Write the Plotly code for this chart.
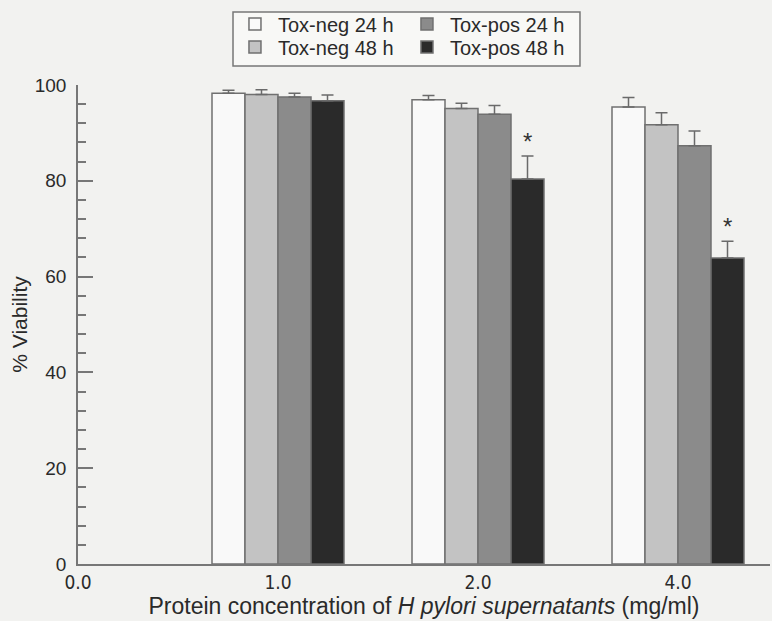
import plotly.graph_objects as go

# ---- data ----
tick_labels = ["0.0", "1.0", "2.0", "4.0"]
tick_positions = [0, 1, 2, 3]
group_positions = [1, 2, 3]  # 1.0, 2.0, 4.0 mg/ml

series_names = ["Tox-neg 24 h", "Tox-neg 48 h", "Tox-pos 24 h", "Tox-pos 48 h"]
neg24 = [98.3, 96.9, 95.4]
neg48 = [98.0, 95.1, 91.7]
pos24 = [97.5, 93.9, 87.3]
pos48 = [96.7, 80.4, 63.9]
neg24_err = [0.6, 0.9, 2.0]
neg48_err = [1.0, 1.1, 2.5]
pos24_err = [0.8, 1.8, 3.1]
pos48_err = [1.2, 4.8, 3.5]
significant = [False, True, True]  # asterisk on Tox-pos 48 h

values = [neg24, neg48, pos24, pos48]
errors = [neg24_err, neg48_err, pos24_err, pos48_err]
colors = ["#f9f9f9", "#c3c3c3", "#8b8b8b", "#2a2a2a"]
legend_rows = ["legend", "legend2", "legend", "legend2"]  # 24 h on row 1, 48 h on row 2

BG = "#f2f2f0"

fig = go.Figure()
for name, vals, errs, col, lg in zip(series_names, values, errors, colors, legend_rows):
    fig.add_trace(go.Bar(
        x=group_positions, y=vals, name=name, legend=lg,
        marker=dict(color=col, line=dict(color="#707070", width=1.5)),
        error_y=dict(type="data", array=errs, arrayminus=[0] * len(errs), symmetric=False,
                     color="#6a6a6a", thickness=1.5, width=6),
    ))

bargap = 0.34
bar_w = (1 - bargap) / 4
offset = 1.5 * bar_w
for xp, v, e, sig in zip(group_positions, pos48, pos48_err, significant):
    if sig:
        fig.add_annotation(x=xp + offset, y=v + e + 3, text="*", showarrow=False,
                           font=dict(size=24, color="#333333", family="Liberation Sans, Arial"),
                           yanchor="middle")

# legend frame (paper coords; plot area = 692 x 479 px)
fig.add_shape(type="rect", xref="paper", yref="paper",
              x0=0.224, x1=0.7254, y0=1.0397, y1=1.1524,
              line=dict(color="#777777", width=1.5), fillcolor="#f8f8f6", layer="above")

legend_common = dict(
    orientation="h", xanchor="left", yanchor="middle", x=0.2225,
    bgcolor="rgba(0,0,0,0)", borderwidth=0,
    font=dict(size=20, family="Liberation Sans, Arial", color="#2a2a2a"),
    itemwidth=36, entrywidth=121,
)

fig.update_layout(
    width=772, height=621,
    margin=dict(l=78, r=2, t=85, b=57),
    paper_bgcolor=BG, plot_bgcolor=BG,
    barmode="group", bargap=bargap, bargroupgap=0,
    font=dict(family="Liberation Sans, Arial, sans-serif", color="#2a2a2a"),
    showlegend=True,
    legend=dict(y=1.1273, **legend_common),
    legend2=dict(y=1.0793, **legend_common),
    xaxis=dict(
        range=[0, 3.46], tickmode="array", tickvals=tick_positions, ticktext=tick_labels,
        showgrid=False, zeroline=False, showline=True, linecolor="#777777", linewidth=1.5,
        ticks="", automargin=False,
        tickfont=dict(size=19, family="DejaVu Sans Condensed, Liberation Sans Narrow, Arial", color="#2a2a2a"),
        title=dict(text="Protein concentration of <i>H pylori supernatants</i> (mg/ml)",
                   font=dict(size=23, family="Liberation Sans, Arial", color="#2a2a2a"),
                   standoff=4),
    ),
    yaxis=dict(
        range=[0, 100], tickmode="linear", tick0=0, dtick=20,
        showgrid=False, zeroline=False, showline=True, linecolor="#777777", linewidth=1.5,
        ticks="inside", ticklen=15, tickwidth=1.5, tickcolor="#777777",
        minor=dict(dtick=4, ticks="inside", ticklen=8, tickwidth=1.5, tickcolor="#777777"),
        tickfont=dict(size=19, color="#2a2a2a"), automargin=False,
        ticklabelstandoff=6,
        title=dict(text="% Viability", font=dict(size=21, color="#2a2a2a"), standoff=1),
    ),
)

fig.write_html(
    "out.html",
    config={"displayModeBar": False},
    post_script="document.body.style.margin='0';document.body.style.background='%s';" % BG,
)
